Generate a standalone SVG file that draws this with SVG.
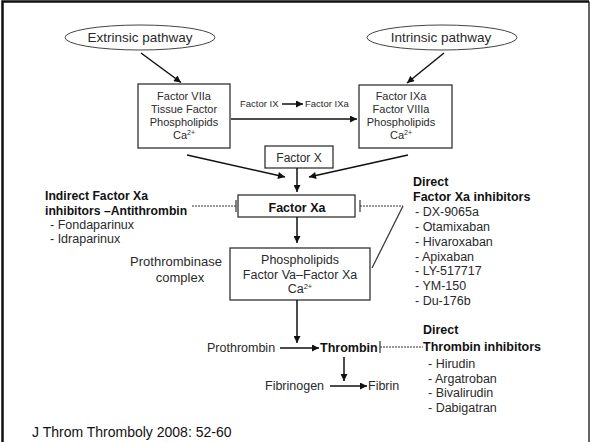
<svg xmlns="http://www.w3.org/2000/svg" width="591" height="442" viewBox="0 0 591 442">
<defs>
<marker id="ah" viewBox="0 0 10 10" refX="10" refY="5" markerWidth="9" markerHeight="7" markerUnits="userSpaceOnUse" orient="auto">
<path d="M0,0 L10,5 L0,10 z" fill="#111"/>
</marker>
</defs>
<style>
text{font-family:"Liberation Sans",Arial,sans-serif;fill:#2a2a2a}
.b{font-weight:bold;fill:#111}
.box{fill:#fff;stroke:#333;stroke-width:1.3}
.ell{fill:#fff;stroke:#444;stroke-width:1}
.arr{stroke:#111;stroke-width:1.5;fill:none;marker-end:url(#ah)}
.inh{stroke:#333;stroke-width:1.2;fill:none;stroke-dasharray:2 1}
.tee{stroke:#333;stroke-width:1.2;fill:none}
.s11{font-size:11px}
.s12{font-size:12.5px}
.c{text-anchor:middle}
</style>
<rect x="0" y="0" width="591" height="442" fill="#fff"/>
<path d="M2.5,442 V1.5 H589" fill="none" stroke="#111" stroke-width="2.5"/>
<path d="M589,1.5 V442" fill="none" stroke="#111" stroke-width="1.3"/>

<g id="extrinsic">
<ellipse class="ell" cx="140" cy="37.5" rx="75" ry="12.5"/>
<text x="140" y="42" class="c" font-size="13.5">Extrinsic pathway</text>
</g>
<g id="intrinsic">
<ellipse class="ell" cx="442" cy="37.5" rx="75" ry="12.5"/>
<text x="441" y="42" class="c" font-size="13.5">Intrinsic pathway</text>
</g>
<g id="tf-complex">
<rect class="box" x="138" y="84" width="92" height="64"/>
<text class="c s11" x="184" y="100">Factor VIIa</text>
<text class="c s11" x="184" y="113">Tissue Factor</text>
<text class="c s11" x="184" y="126">Phospholipids</text>
<text class="c s11" x="184" y="139">Ca<tspan font-size="7" dy="-4">2+</tspan></text>
</g>
<g id="tenase">
<rect class="box" x="359" y="85" width="93" height="63"/>
<text class="c s11" x="401" y="100">Factor IXa</text>
<text class="c s11" x="401" y="113">Factor VIIIa</text>
<text class="c s11" x="401" y="126">Phospholipids</text>
<text class="c s11" x="401" y="139">Ca<tspan font-size="7" dy="-4">2+</tspan></text>
</g>
<g id="factor-ix">
<text x="240" y="107" font-size="9.5">Factor IX</text>
</g>
<g id="factor-ixa">
<text x="305" y="107" font-size="9.5">Factor IXa</text>
</g>
<g id="factor-x">
<rect class="box" x="265" y="146" width="68" height="22"/>
<text class="c" x="299" y="162" font-size="12">Factor X</text>
</g>
<g id="factor-xa">
<rect class="box" x="238" y="195" width="117" height="22"/>
<text class="c b" x="297" y="211.5" font-size="12.5">Factor Xa</text>
</g>
<g id="prothrombinase">
<rect class="box" x="230" y="248" width="140" height="52"/>
<text class="c s12" x="300" y="264">Phospholipids</text>
<text class="c s12" x="300" y="279">Factor Va–Factor Xa</text>
<text class="c s12" x="300" y="293">Ca<tspan font-size="7.5" dy="-4.5">2+</tspan></text>
</g>
<g id="prothrombinase-label">
<text class="c" x="176" y="266" font-size="13">Prothrombinase</text>
<text class="c" x="180" y="282" font-size="13">complex</text>
</g>
<g id="prothrombin"><text class="s12" x="207" y="352">Prothrombin</text></g>
<g id="thrombin"><text class="b" x="320" y="351.5" font-size="12.5">Thrombin</text></g>
<g id="fibrinogen"><text class="s12" x="265" y="390">Fibrinogen</text></g>
<g id="fibrin"><text class="s12" x="368" y="390">Fibrin</text></g>

<g id="indirect-xa-inhibitors">
<text class="b" x="45" y="200" font-size="12.2">Indirect Factor Xa</text>
<text class="b" x="45" y="215" font-size="12.2">inhibitors –Antithrombin</text>
<text class="s12" x="50" y="229">- Fondaparinux</text>
<text class="s12" x="50" y="243">- Idraparinux</text>
</g>
<g id="direct-xa-inhibitors">
<text class="b" x="413" y="185.5" font-size="12.5">Direct</text>
<text class="b" x="413" y="201" font-size="12.5">Factor Xa inhibitors</text>
<text class="s12" x="415" y="216">- DX-9065a</text>
<text class="s12" x="415" y="231">- Otamixaban</text>
<text class="s12" x="415" y="246">- Hivaroxaban</text>
<text class="s12" x="415" y="260.5">- Apixaban</text>
<text class="s12" x="415" y="275">- LY-517717</text>
<text class="s12" x="415" y="290">- YM-150</text>
<text class="s12" x="415" y="304.5">- Du-176b</text>
</g>
<g id="direct-thrombin-inhibitors">
<text class="b" x="423" y="334" font-size="12.5">Direct</text>
<text class="b" x="423" y="351" font-size="12.5">Thrombin inhibitors</text>
<text class="s12" x="428" y="368">- Hirudin</text>
<text class="s12" x="428" y="382.5">- Argatroban</text>
<text class="s12" x="428" y="397">- Bivalirudin</text>
<text class="s12" x="428" y="411.5">- Dabigatran</text>
</g>
<g id="citation">
<text x="32" y="437" font-size="14" style="fill:#111">J Throm Thromboly 2008: 52-60</text>
</g>

<g id="connectors">
<line class="arr" x1="141" y1="53" x2="181" y2="82.5"/>
<line class="arr" x1="444" y1="53" x2="407" y2="83"/>
<line class="arr" x1="282" y1="104" x2="303" y2="104"/>
<line class="arr" x1="231" y1="119" x2="357" y2="119"/>
<line class="arr" x1="187" y1="155" x2="285" y2="177"/>
<line class="arr" x1="408" y1="155" x2="309" y2="177"/>
<line class="arr" x1="297" y1="168" x2="297" y2="192"/>
<line class="arr" x1="297" y1="217" x2="297" y2="243"/>
<line class="arr" x1="297" y1="300" x2="297" y2="343"/>
<line class="arr" x1="280" y1="348" x2="319" y2="348"/>
<line class="arr" x1="344" y1="357" x2="344" y2="381"/>
<line class="arr" x1="330" y1="386" x2="367" y2="386"/>
<line class="inh" x1="192" y1="206" x2="236" y2="206"/>
<line class="tee" x1="236" y1="200" x2="236" y2="212"/>
<line class="inh" x1="360" y1="206" x2="403" y2="206"/>
<line class="tee" x1="360" y1="200" x2="360" y2="212"/>
<line class="tee" x1="403" y1="206" x2="372" y2="268"/>
<line class="inh" x1="380" y1="347" x2="423" y2="347"/>
<line class="tee" x1="380" y1="341" x2="380" y2="353"/>
</g>
</svg>
